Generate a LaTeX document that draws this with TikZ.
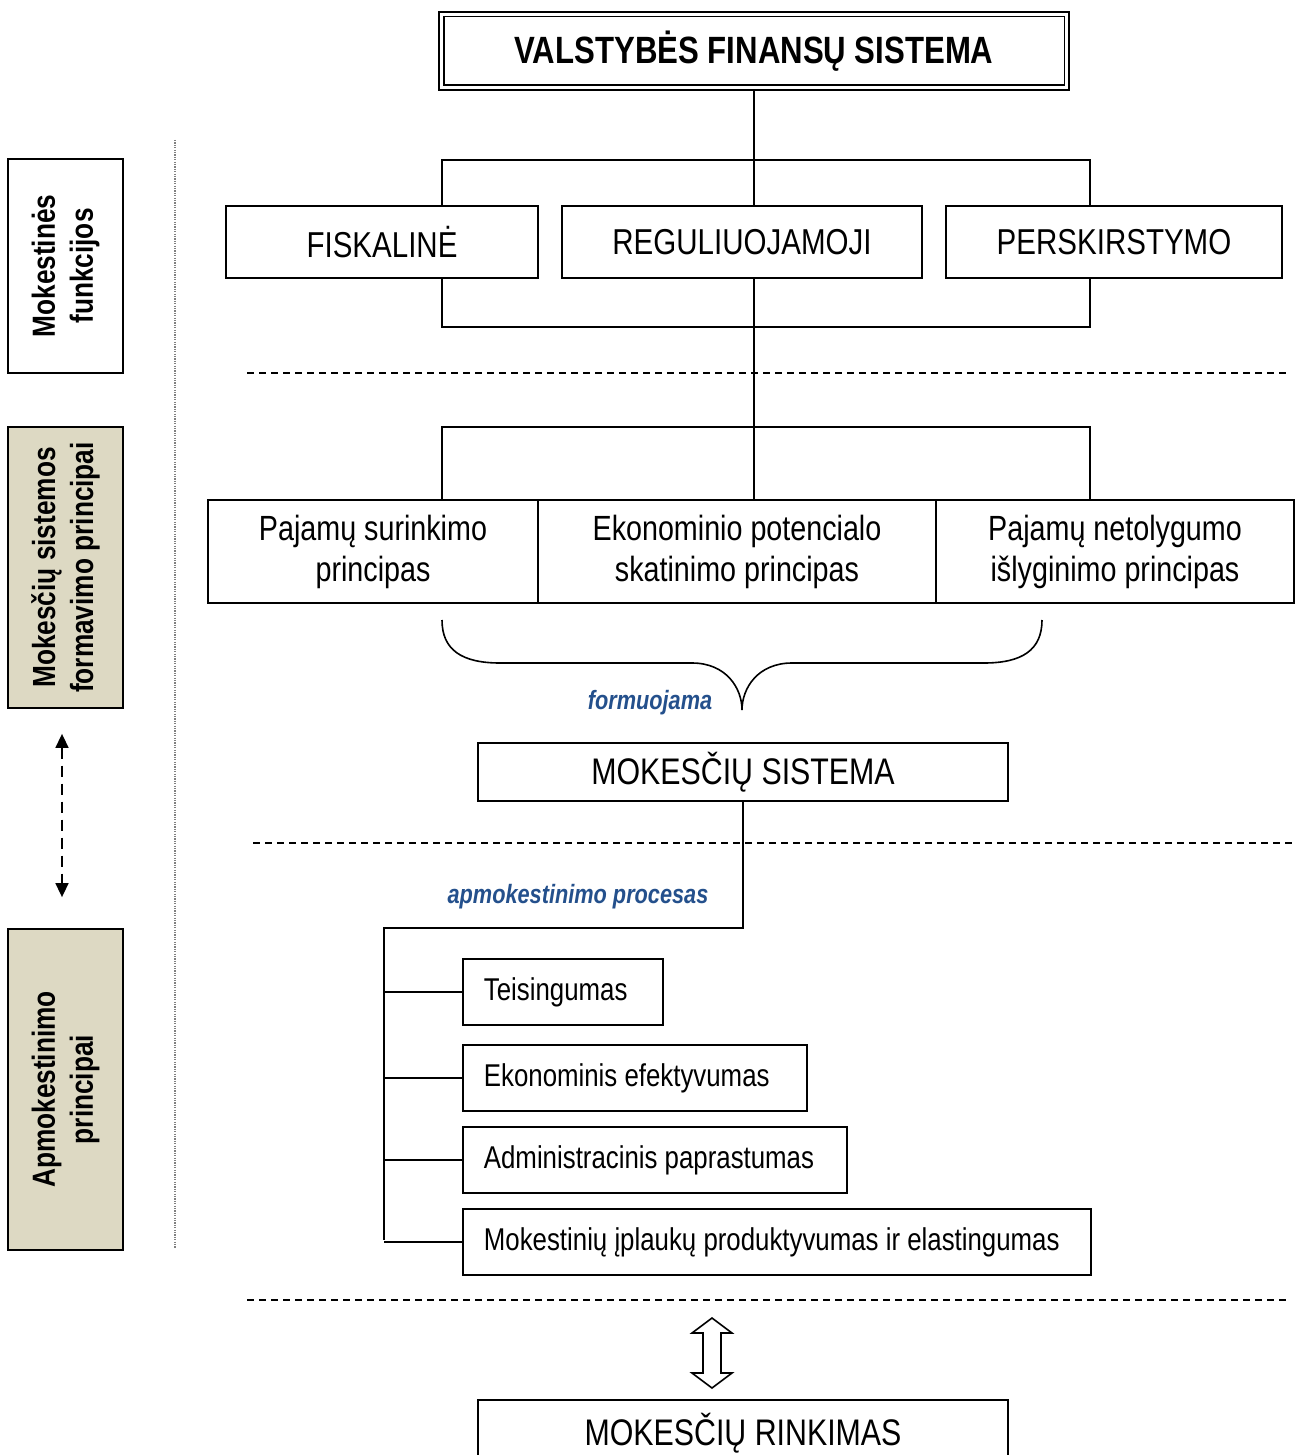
\documentclass[tikz,border=0pt]{standalone}
\usepackage{fontspec}
\setmainfont{Liberation Sans}[FakeStretch=0.82]
\usetikzlibrary{calc,arrows.meta}
\definecolor{tanfill}{HTML}{DDD9C3}
\definecolor{procblue}{HTML}{24508C}
\tikzset{
  frame/.style={draw, line width=1.8pt, inner sep=0pt, align=center, fill=white},
  capsbig/.style={font=\fontsize{36}{42}\selectfont},
  principle/.style={frame, font=\fontsize{35}{41}\selectfont, minimum height=103pt},
  itembox/.style={frame, anchor=west, inner xsep=21pt, minimum height=66pt,
                  font=\fontsize{31.5}{37}\selectfont},
  sidebox/.style={frame, rotate=90, minimum height=115pt, font=\bfseries\fontsize{32}{38}\selectfont},
  note/.style={text=procblue, font=\bfseries\itshape\fontsize{26.5}{30}\selectfont},
  wire/.style={line width=1.8pt},
  sep/.style={line width=1.5pt, dash pattern=on 7pt off 5pt},
}
% left-aligned label of fixed width inside an item box
\newcommand{\itemtext}[2]{\makebox[#1pt][l]{#2}}
\begin{document}
\begin{tikzpicture}[x=1pt,y=-1pt]
\useasboundingbox (0,0) rectangle (1296,1455);

% left column: section labels
\node[sidebox, minimum width=214pt] (funk) at (65.5,266) {Mokestinės\\funkcijos};
\node[sidebox, fill=tanfill, minimum width=281pt] (form) at (65.5,567.5) {Mokesčių sistemos\\formavimo principai};
\node[sidebox, fill=tanfill, minimum width=321pt] (apm) at (65.5,1089.5) {Apmokestinimo\\principai};
\draw[line width=1.6pt, dash pattern=on 11pt off 7pt, {Triangle[length=14pt,width=13pt]}-{Triangle[length=14pt,width=13pt]},
      shorten <=25pt, shorten >=31pt]
  ([xshift=-3.5pt]form.west) -- ([xshift=-3.5pt]apm.east);
\draw[gray, line width=1.3pt, dash pattern=on 1.2pt off 1.2pt] (175,140) -- (175,1248);

% top level
\node[frame, line width=2.6pt, minimum width=630pt, minimum height=78pt,
      font=\bfseries\fontsize{38}{44}\selectfont] (vfs) at (754,51) {VALSTYBĖS FINANSŲ SISTEMA};
\draw[line width=1.6pt] ([shift={(6,6)}]vfs.north west) rectangle ([shift={(-6,-6)}]vfs.south east);

% tax functions
\node[frame, capsbig, minimum width=312pt, minimum height=72pt] (fisk) at (382,242) {FISKALINĖ};
\node[frame, capsbig, minimum width=360pt, minimum height=72pt] (reg) at (742,242) {REGULIUOJAMOJI};
\node[frame, capsbig, minimum width=336pt, minimum height=72pt] (pers) at (1114,242) {PERSKIRSTYMO};

\coordinate (brT) at (754,160);
\coordinate (brB) at (754,327);
\coordinate (brM) at (754,427);
\coordinate (brL) at (442,160);
\coordinate (brR) at (1090,160);

% formation principles
\node[principle, minimum width=330pt] (paj) at (373,551.5) {Pajamų surinkimo\\principas};
\node[principle, minimum width=398pt] (ekon) at (737,551.5) {Ekonominio potencialo\\skatinimo principas};
\node[principle, minimum width=358pt] (netol) at (1115,551.5) {Pajamų netolygumo\\išlyginimo principas};

\draw[wire] (vfs.south) -- (vfs.south |- reg.north);
\draw[wire] (fisk.north -| brL) |- (brT) -| (pers.north -| brR);
\draw[wire] (fisk.south -| brL) |- (brB) -| (pers.south -| brR);
\draw[wire] (reg.south -| brT) -- (ekon.north -| brT);
\draw[wire] (paj.north -| brL) |- (brM) -| (netol.north -| brR);

% section separators
\draw[sep] (247,373) -- (1290,373);
\draw[sep] (253,843) -- (1296,843);
\draw[sep] (247,1300) -- (1290,1300);

% brace gathering the principles
\draw[line width=1.6pt] (442,620) .. controls (442,650) and (462,663) .. (500,663) -- (692,663)
  .. controls (726,663) and (742,688) .. (742,710)
  .. controls (742,688) and (758,663) .. (792,663) -- (984,663)
  .. controls (1022,663) and (1042,650) .. (1042,620);
\node[note] (formuoj) at (650,703) {formuojama};

\node[frame, font=\fontsize{37}{43}\selectfont, minimum width=530pt, minimum height=58pt] (mok) at (743,772) {MOKESČIŲ SISTEMA};

% taxation principles
\node[note] (proc) at (578,897) {apmokestinimo procesas};
\coordinate (trunkTop) at (384,928);
\coordinate (trunkEnd) at (384,1240);
\node[itembox] (teis) at (462,992) {\itemtext{158}{Teisingumas}};
\node[itembox] (efek) at (462,1078) {\itemtext{302}{Ekonominis efektyvumas}};
\node[itembox] (adm) at (462,1160) {\itemtext{342}{Administracinis paprastumas}};
\node[itembox] (prod) at (462,1242) {\itemtext{586}{Mokestinių įplaukų produktyvumas ir elastingumas}};

\draw[wire] (mok.south) |- (trunkTop) -- (trunkEnd);
\foreach \b in {teis,efek,adm,prod}
  \draw[wire] (\b.west -| trunkTop) -- (\b.west);

% exchange with tax collection
\node[frame, font=\fontsize{37}{43}\selectfont, minimum width=530pt, minimum height=66pt] (rink) at (743,1433) {MOKESČIŲ RINKIMAS};
\draw[line width=1.6pt, fill=white] (712,1318) -- (732,1333) -- (721,1333) -- (721,1373) -- (732,1373) -- (712,1388)
  -- (692,1373) -- (703,1373) -- (703,1333) -- (692,1333) -- cycle;
\end{tikzpicture}
\end{document}
